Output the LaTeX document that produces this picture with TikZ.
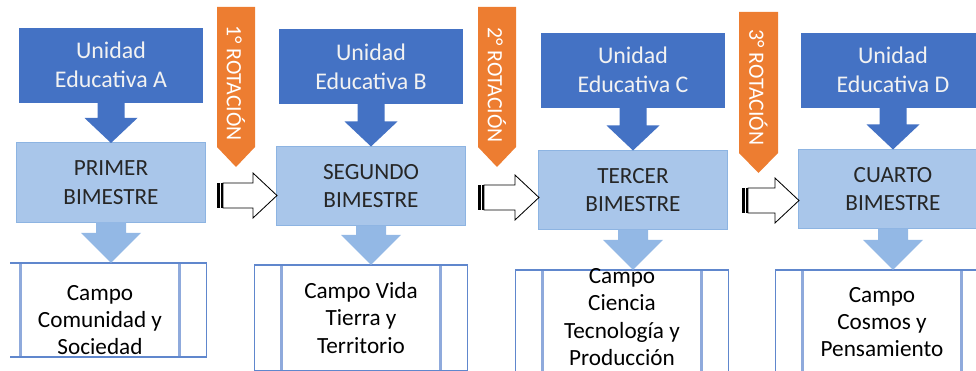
\documentclass[tikz,border=0pt]{standalone}
\usepackage{fontspec}
\setmainfont{Carlito}
\usetikzlibrary{positioning,calc}

\definecolor{azulosc}{HTML}{4472C4}
\definecolor{azulbim}{HTML}{A9C6EA}
\definecolor{bordebim}{HTML}{8DB4E2}
\definecolor{azulflecha}{HTML}{93B8E5}
\definecolor{lineacampo}{HTML}{8FAADC}
\definecolor{naranja}{HTML}{ED7D31}

\tikzset{
  unidad/.style={fill=azulosc, draw=azulosc, text=white!95!black, align=center,
    minimum width=4.575cm, minimum height=1.85cm, inner sep=0pt, outer sep=0pt,
    font=\fontsize{17}{20.5}\selectfont},
  bimestre/.style={fill=azulbim, draw=bordebim, line width=0.7pt, text=black!85, align=center,
    minimum width=4.7cm, minimum height=1.975cm, inner sep=0pt, outer sep=0pt,
    font=\fontsize{16.5}{20.5}\selectfont},
  campo/.style={fill=white, draw=azulosc!85, line width=0.8pt,
    minimum width=5.325cm, minimum height=2.65cm, inner sep=0pt, outer sep=0pt,
    path picture={
      \draw[lineacampo, line width=2pt] ([xshift=0.675cm]path picture bounding box.north west) -- ([xshift=0.675cm]path picture bounding box.south west);
      \draw[lineacampo, line width=2pt] ([xshift=-0.675cm]path picture bounding box.north east) -- ([xshift=-0.675cm]path picture bounding box.south east);
    }},
  campotexto/.style={align=center, inner sep=0pt, font=\fontsize{16.5}{19.5}\selectfont},
  rotacion/.style={text=white, rotate=-90, inner sep=0pt, font=\fontsize{15.5}{18}\selectfont}
}

% block arrow pointing down: from, to, colour, half shaft, half head, head length
\newcommand{\flechabaja}[6]{%
  \fill[#3] ($(#1)+(-#4,0)$) -- ($(#2)+(-#4,#6)$) -- ($(#2)+(-#5,#6)$) -- (#2)
    -- ($(#2)+(#5,#6)$) -- ($(#2)+(#4,#6)$) -- ($(#1)+(#4,0)$) -- cycle;}

% striped hollow arrow: tail coordinate, target node
\newcommand{\flechahueca}[2]{%
  \fill[black] ($(#1)+(0,-12.5)$) rectangle ($(#1)+(3,12.5)$);
  \fill[black] ($(#1)+(4,-12.5)$) rectangle ($(#1)+(6,12.5)$);
  \draw[fill=white, line width=0.6pt, line join=miter] ($(#1)+(6,-12.5)$) -- ($(#2.west |- #1)+(-24,-12.5)$)
    -- ($(#2.west |- #1)+(-24,-22.5)$) -- (#2.west |- #1) -- ($(#2.west |- #1)+(-24,22.5)$)
    -- ($(#2.west |- #1)+(-24,12.5)$) -- ($(#1)+(6,12.5)$) -- cycle;}

\begin{document}
\begin{tikzpicture}[x=0.025cm, y=0.025cm]
  \useasboundingbox (0,0) rectangle (976,370);
  \clip (10,0) rectangle (976,370);

  % Column 1
  \node[unidad] (ua) at (111,305) {Unidad\\Educativa A};
  \node[bimestre] (b1) at (111,187.5) {PRIMER\\BIMESTRE};
  \node[campo, minimum height=2.35cm] (c1) at (100,60) {};
  \node[campotexto] (t1) at (100,50) {Campo\\Comunidad y\\Sociedad};
  \flechabaja{ua.south}{ua.south |- b1.north}{azulosc}{13.5}{26.5}{25}
  \flechabaja{b1.south}{b1.south |- c1.north}{azulflecha}{15}{30}{30}

  % Column 2
  \node[unidad] (ub) at (371,303.5) {Unidad\\Educativa B};
  \node[bimestre] (b2) at (371,184) {SEGUNDO\\BIMESTRE};
  \node[campo] (c2) at (361,52) {};
  \node[campotexto] (t2) at (361,52) {Campo Vida\\Tierra y\\Territorio};
  \flechabaja{ub.south}{ub.south |- b2.north}{azulosc}{13.5}{26.5}{25}
  \flechabaja{b2.south}{b2.south |- c2.north}{azulflecha}{15}{30}{30}

  % Column 3
  \node[unidad] (uc) at (633,300) {Unidad\\Educativa C};
  \node[bimestre] (b3) at (633,180) {TERCER\\BIMESTRE};
  \node[campo] (c3) at (622,47) {};
  \node[campotexto] (t3) at (622,53) {Campo\\Ciencia\\Tecnología y\\Producción};
  \flechabaja{uc.south}{uc.south |- b3.north}{azulosc}{13.5}{26.5}{25}
  \flechabaja{b3.south}{b3.south |- c3.north}{azulflecha}{15}{30}{30}

  % Column 4
  \node[unidad] (ud) at (893,300) {Unidad\\Educativa D};
  \node[bimestre] (b4) at (893,181) {CUARTO\\BIMESTRE};
  \node[campo] (c4) at (882,47) {};
  \node[campotexto] (t4) at (882,48) {Campo\\Cosmos y\\Pensamiento};
  \flechabaja{ud.south}{ud.south |- b4.north}{azulosc}{13.5}{26.5}{25}
  \flechabaja{b4.south}{b4.south |- c4.north}{azulflecha}{15}{30}{30}

  % Rotations
  \fill[naranja] (217,363) -- (255,363) -- (255,223) -- (236,203) -- (217,223) -- cycle;
  \node[rotacion] (r1) at (236,287) {1° ROTACIÓN};
  \fill[naranja] (478,363) -- (516,363) -- (516,223) -- (497,203) -- (478,223) -- cycle;
  \node[rotacion] (r2) at (497,285) {2° ROTACIÓN};
  \fill[naranja] (739,358) -- (778,358) -- (778,217) -- (758.5,197) -- (739,217) -- cycle;
  \node[rotacion] (r3) at (758.5,282.5) {3° ROTACIÓN};

  \coordinate (h1) at (217,174.5);
  \flechahueca{h1}{b2}
  \coordinate (h2) at (478,172.5);
  \flechahueca{h2}{b3}
  \coordinate (h3) at (742,169.5);
  \flechahueca{h3}{b4}
\end{tikzpicture}
\end{document}
